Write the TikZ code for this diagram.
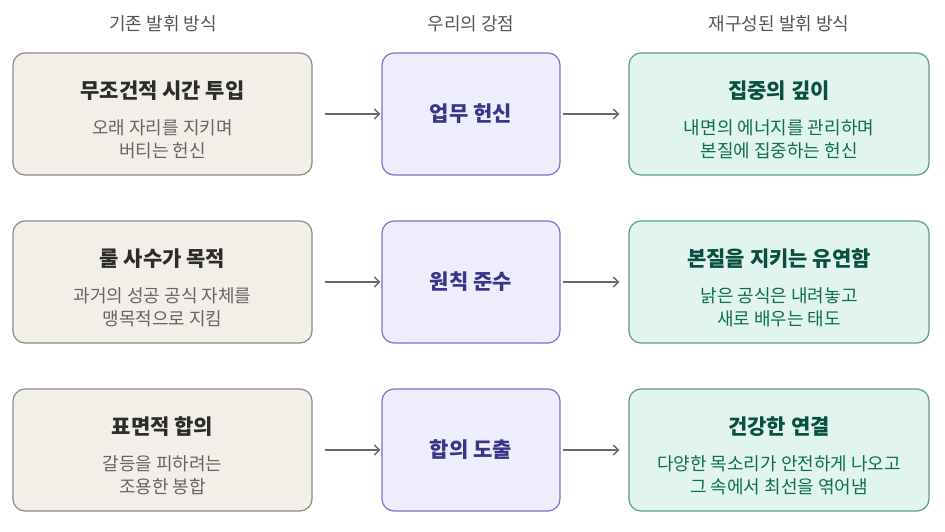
\documentclass[tikz,border=0pt]{standalone}
\usepackage{fontspec}
\setmainfont{Noto Sans CJK KR}
\usetikzlibrary{arrows.meta}
\definecolor{lfill}{HTML}{F1EFE8}
\definecolor{ldraw}{HTML}{8C8A84}
\definecolor{ltitle}{HTML}{2C2C2A}
\definecolor{lsub}{HTML}{66655F}
\definecolor{mfill}{HTML}{EEEDFE}
\definecolor{mdraw}{HTML}{7A70CF}
\definecolor{mtext}{HTML}{3C3489}
\definecolor{rfill}{HTML}{E1F5EE}
\definecolor{rdraw}{HTML}{5A9E86}
\definecolor{rtitle}{HTML}{085041}
\definecolor{rsub}{HTML}{0F6E56}
\definecolor{arr}{HTML}{6B6A66}
\definecolor{hdr}{HTML}{55544F}
\tikzset{
  lbox/.style={draw=ldraw, fill=lfill, line width=1.2pt, rounded corners=12pt, minimum width=299pt, minimum height=122pt},
  mbox/.style={draw=mdraw, fill=mfill, line width=1.2pt, rounded corners=12pt, minimum width=178pt, minimum height=122pt, font=\fontsize{21}{24}\selectfont\bfseries, text=mtext},
  rbox/.style={draw=rdraw, fill=rfill, line width=1.2pt, rounded corners=12pt, minimum width=300pt, minimum height=122pt},
  hdrtxt/.style={font=\fontsize{18}{21}\selectfont, text=hdr},
  ltitletxt/.style={font=\fontsize{21}{24}\selectfont\bfseries, text=ltitle},
  lsubtxt/.style={font=\fontsize{18}{23}\selectfont, text=lsub, align=center},
  rtitletxt/.style={font=\fontsize{21}{24}\selectfont\bfseries, text=rtitle},
  rsubtxt/.style={font=\fontsize{18}{23}\selectfont, text=rsub, align=center},
  conn/.style={draw=arr, line width=1.5pt, -{Straight Barb[length=5pt,width=10pt]}}
}
\begin{document}
\begin{tikzpicture}[x=1pt,y=-1pt]
\useasboundingbox (0,0) rectangle (945,531);
% headers
\node[hdrtxt] (h1) at (163,24) {기존 발휘 방식};
\node[hdrtxt] (h2) at (471,24) {우리의 강점};
\node[hdrtxt] (h3) at (779,24) {재구성된 발휘 방식};
% row 1
\node[lbox] (l1) at (162.5,114) {};
\node[ltitletxt] (l1t) at (162.5,91) {무조건적 시간 투입};
\node[lsubtxt] (l1s) at (162.5,139) {오래 자리를 지키며\\버티는 헌신};
\node[mbox] (m1) at (471,114) {업무 헌신};
\node[rbox] (r1) at (779,114) {};
\node[rtitletxt] (r1t) at (779,91) {집중의 깊이};
\node[rsubtxt] (r1s) at (779,139) {내면의 에너지를 관리하며\\본질에 집중하는 헌신};
% row 2
\node[lbox] (l2) at (162.5,282) {};
\node[ltitletxt] (l2t) at (162.5,259) {룰 사수가 목적};
\node[lsubtxt] (l2s) at (162.5,307) {과거의 성공 공식 자체를\\맹목적으로 지킴};
\node[mbox] (m2) at (471,282) {원칙 준수};
\node[rbox] (r2) at (779,282) {};
\node[rtitletxt] (r2t) at (779,259) {본질을 지키는 유연함};
\node[rsubtxt] (r2s) at (779,307) {낡은 공식은 내려놓고\\새로 배우는 태도};
% row 3
\node[lbox] (l3) at (162.5,450) {};
\node[ltitletxt] (l3t) at (162.5,427) {표면적 합의};
\node[lsubtxt] (l3s) at (162.5,475) {갈등을 피하려는\\조용한 봉합};
\node[mbox] (m3) at (471,450) {합의 도출};
\node[rbox] (r3) at (779,450) {};
\node[rtitletxt] (r3t) at (779,427) {건강한 연결};
\node[rsubtxt] (r3s) at (779,475) {다양한 목소리가 안전하게 나오고\\그 속에서 최선을 엮어냄};
% connectors
\foreach \i in {1,2,3}{
  \draw[conn] ([xshift=12pt]l\i.east) -- ([xshift=-1pt]m\i.west);
  \draw[conn] ([xshift=2pt]m\i.east) -- ([xshift=-9pt]r\i.west);
}
\end{tikzpicture}
\end{document}
